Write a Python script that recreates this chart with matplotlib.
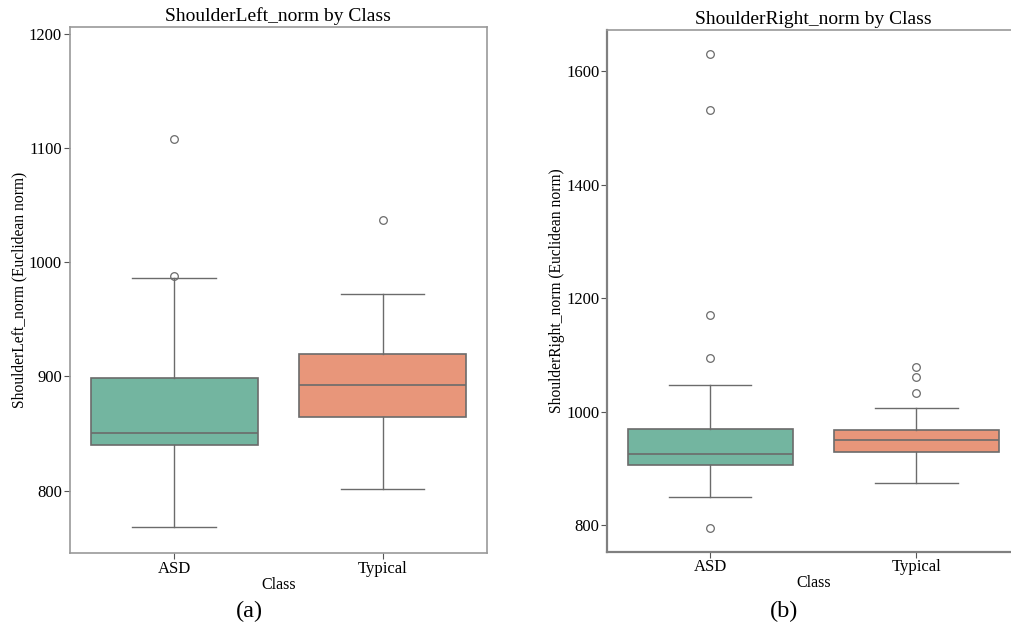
import matplotlib
matplotlib.use("Agg")
import matplotlib.pyplot as plt

plt.rcParams['font.family'] = ['Liberation Serif', 'DejaVu Serif']

classes = ['ASD', 'Typical']
box_colors = ['#73b5a0', '#e8967a']

# ShoulderLeft_norm: lower whisker, Q1, median, Q3, upper whisker, outliers
left_whislo = [768, 801.5]
left_q1 = [840, 864.7]
left_med = [850.7, 892.1]
left_q3 = [898.8, 919.8]
left_whishi = [986.5, 972.3]
left_fliers = [[988, 1107.6], [1037.3]]

# ShoulderRight_norm
right_whislo = [850, 874.4]
right_q1 = [906.5, 929.5]
right_med = [925.4, 950.6]
right_q3 = [970, 968.3]
right_whishi = [1047, 1007.6]
right_fliers = [[1631.7, 1531.9, 1171.3, 1094.7, 794.7], [1079.4, 1061.2, 1033.5]]


def make_stats(lo, q1, med, q3, hi, fl):
    return [dict(whislo=lo[i], q1=q1[i], med=med[i], q3=q3[i], whishi=hi[i],
                 fliers=fl[i], label=classes[i]) for i in range(len(classes))]


def draw(ax, stats, title, ylabel):
    lc = '#6b6b6b'
    bp = ax.bxp(stats, positions=[0, 1], widths=0.8, patch_artist=True,
                capwidths=0.4,
                boxprops=dict(edgecolor=lc, linewidth=1.2),
                medianprops=dict(color=lc, linewidth=1.2),
                whiskerprops=dict(color=lc, linewidth=1.0),
                capprops=dict(color=lc, linewidth=1.0),
                flierprops=dict(marker='o', markerfacecolor='none',
                                markeredgecolor=lc, markersize=5.5,
                                markeredgewidth=0.9))
    for patch, c in zip(bp['boxes'], box_colors):
        patch.set_facecolor(c)
    ax.set_xlim(-0.5, 1.5)
    ax.set_title(title, fontsize=14, pad=4)
    ax.set_xlabel('Class', fontsize=11.5, labelpad=0)
    ax.set_ylabel(ylabel, fontsize=11.2, labelpad=1)
    ax.tick_params(labelsize=12, color='#555555', length=4, pad=1.5)


fig = plt.figure(figsize=(10.12, 6.28), dpi=100)

ax1 = fig.add_axes([0.0689, 0.1194, 0.4124, 0.838])
draw(ax1, make_stats(left_whislo, left_q1, left_med, left_q3, left_whishi, left_fliers),
     'ShoulderLeft_norm by Class', 'ShoulderLeft_norm (Euclidean norm)')
ax1.set_ylim(745.5, 1206)
ax1.set_yticks([800, 900, 1000, 1100, 1200])
for s in ax1.spines.values():
    s.set_color('#999999')
    s.set_linewidth(1.2)

ax2 = fig.add_axes([0.5998, 0.1215, 0.4076, 0.8315])
draw(ax2, make_stats(right_whislo, right_q1, right_med, right_q3, right_whishi, right_fliers),
     'ShoulderRight_norm by Class', 'ShoulderRight_norm (Euclidean norm)')
ax2.set_ylim(753.4, 1674)
ax2.set_yticks([800, 1000, 1200, 1400, 1600])
for s in ax2.spines.values():
    s.set_color('#808080')
    s.set_linewidth(1.6)
ax2.spines['top'].set_color('#999999')
ax2.spines['top'].set_linewidth(1.2)

fig.text(249 / 1012, 1 - 611 / 628, '(a)', fontsize=17.5, ha='center', va='center')
fig.text(784 / 1012, 1 - 611 / 628, '(b)', fontsize=17.5, ha='center', va='center')

fig.savefig('out.png', dpi=100)
